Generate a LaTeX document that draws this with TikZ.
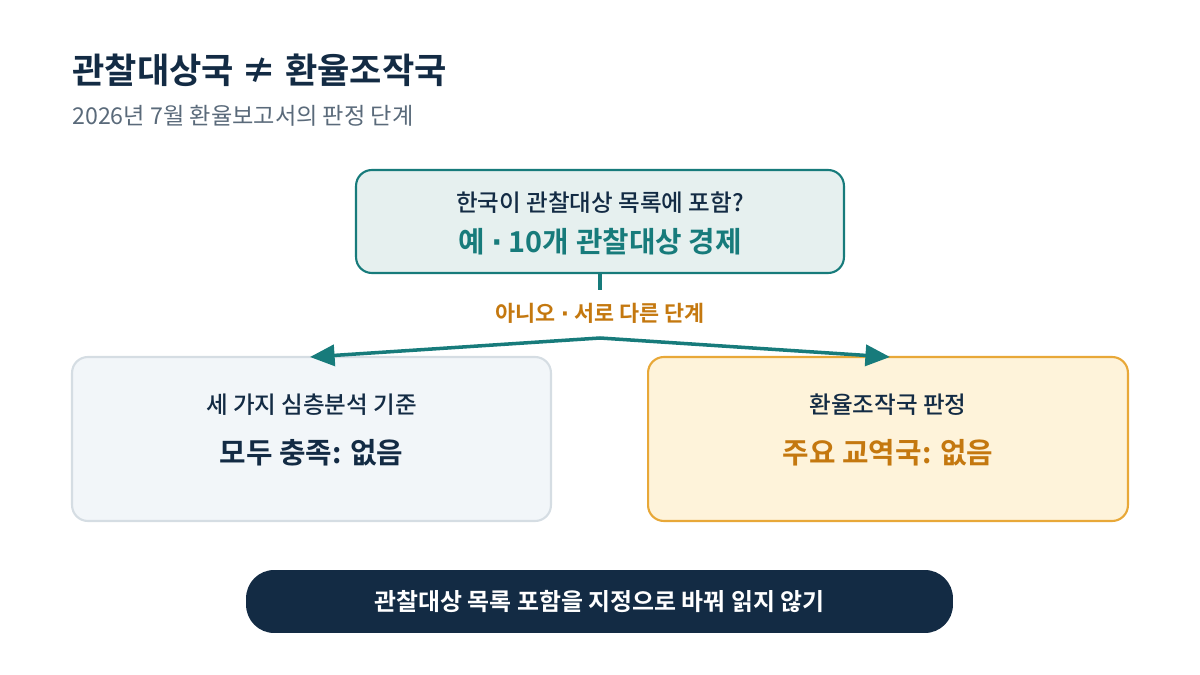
\documentclass[tikz,border=0pt]{standalone}
\usepackage{fontspec}
\setmainfont{Noto Sans CJK KR}
\newfontfamily\krbold{Noto Sans CJK KR Bold}
\newfontfamily\krmed{Noto Sans CJK KR Medium}
\newfontfamily\dotfont{DejaVu Sans}
\newcommand{\middot}{{\dotfont\bfseries ·}}
\usetikzlibrary{arrows.meta,positioning}
\definecolor{navy}{HTML}{132B44}
\definecolor{subgray}{HTML}{5A6A7A}
\definecolor{tealmain}{HTML}{177B7B}
\definecolor{tealfill}{HTML}{E6F0EF}
\definecolor{orangetxt}{HTML}{C4780F}
\definecolor{orangeedge}{HTML}{E8A838}
\definecolor{orangefill}{HTML}{FEF3DA}
\definecolor{grayfill}{HTML}{F2F6F9}
\definecolor{grayedge}{HTML}{D5DDE3}

\begin{document}
\begin{tikzpicture}[
    x=0.02cm, y=-0.02cm,
    box/.style={draw, line width=1.2pt, rounded corners=9pt, inner sep=0pt},
    small/.style={font=\krmed\fontsize{13.4}{16}\selectfont, text=navy},
    big/.style={font=\krbold\fontsize{16.4}{19}\selectfont},
    arrow/.style={-{Triangle[length=14pt,width=12pt]}, line width=2pt, tealmain}
]
    \useasboundingbox (0,0) rectangle (1200,675);
    % title
    \node[anchor=west, inner sep=0pt, text=navy, font=\krbold\fontsize{20}{23}\selectfont] (title) at (72,70) {관찰대상국 ≠ 환율조작국};
    \node[anchor=west, inner sep=0pt, text=subgray, font=\fontsize{13.2}{16}\selectfont] (sub) at (72,116) {2026년 7월 환율보고서의 판정 단계};

    % boxes
    \node[box, draw=tealmain, fill=tealfill, minimum width=9.76cm, minimum height=2.06cm] (top) at (600,221.5) {};
    \node[small] (toptxt) at (600,203) {한국이 관찰대상 목록에 포함?};
    \node[big, text=tealmain] (topbig) at (600,242) {예 \middot{} 10개 관찰대상 경제};

    \node[box, draw=grayedge, fill=grayfill, minimum width=9.58cm, minimum height=3.28cm] (left) at (311.5,439) {};
    \node[small] (lefttxt) at (311.5,405) {세 가지 심층분석 기준};
    \node[big, text=navy] (leftbig) at (311.5,453) {모두 충족: 없음};

    \node[box, draw=orangeedge, fill=orangefill, minimum width=9.6cm, minimum height=3.28cm] (right) at (888,439) {};
    \node[small] (righttxt) at (888,405) {환율조작국 판정};
    \node[big, text=orangetxt] (rightbig) at (888,453) {주요 교역국: 없음};

    % connectors
    \coordinate (stem) at (600,290);
    \coordinate (fork) at (600,338);
    \coordinate (lefttip) at (310,357);
    \coordinate (righttip) at (890,357);
    \draw[tealmain, line width=2.5pt] (top.south) -- (stem);
    \node[text=orangetxt, font=\krbold\fontsize{12.4}{15}\selectfont] (no) at (600,313) {아니오 \middot{} 서로 다른 단계};
    \draw[arrow] (fork) -- (lefttip);
    \draw[arrow] (fork) -- (righttip);

    % bottom note
    \node[fill=navy, rounded corners=16pt, minimum width=14.14cm, minimum height=1.26cm, text=white, font=\krbold\fontsize{13.6}{16}\selectfont] (note) at (599.5,601.5) {관찰대상 목록 포함을 지정으로 바꿔 읽지 않기};
\end{tikzpicture}
\end{document}
